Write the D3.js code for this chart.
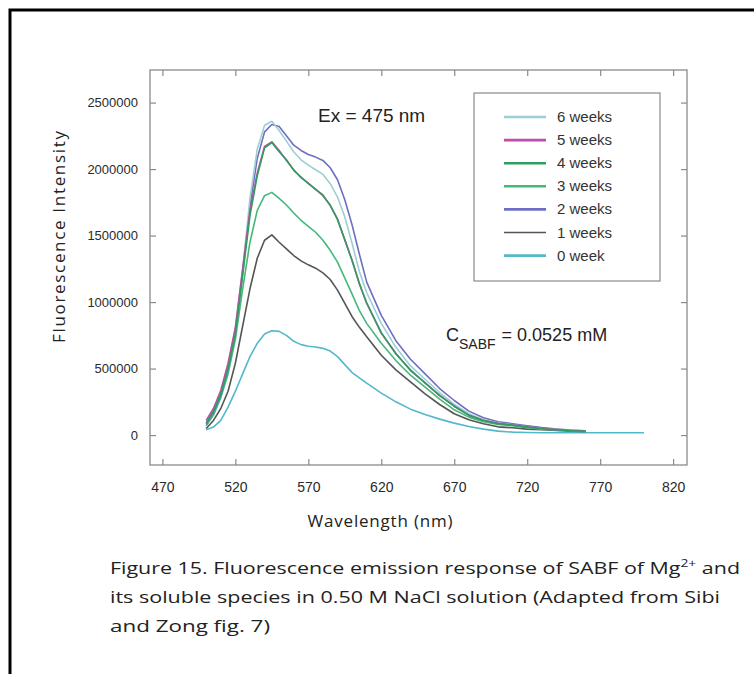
<!DOCTYPE html>
<html>
<head>
<meta charset="utf-8">
<script src="https://cdn.jsdelivr.net/npm/d3@7"></script>
<style>
  body { margin: 0; background: #fff; }
  svg { display: block; }
</style>
</head>
<body>
<script>
// wavelength grid (nm) shared by the 1-6 week scans
var wavelengths = [500,505,510,515,520,525,530,535,540,545,550,555,560,565,570,575,580,585,590,595,600,605,610,620,630,640,650,660,670,680,690,700,710,720,730,740,750,760];
// the 0 week scan runs further, to 800 nm
var wavelengths0 = wavelengths.concat([770,780,790,800]);

var week6 = [100000,190000,320000,520000,800000,1250000,1780000,2150000,2330000,2360000,2290000,2210000,2130000,2070000,2030000,1995000,1960000,1890000,1790000,1640000,1440000,1230000,1070000,840000,660000,520000,420000,320000,230000,160000,115000,90000,78000,62000,50000,42000,35000,30000];
var week5 = [110000,200000,335000,540000,810000,1250000,1690000,1970000,2170000,2205000,2140000,2065000,1995000,1935000,1895000,1845000,1805000,1725000,1625000,1465000,1315000,1135000,995000,765000,615000,485000,395000,295000,220000,148000,112000,88000,76000,62000,49000,41000,34000,31000];
var week4 = [90000,180000,310000,500000,760000,1200000,1650000,1950000,2160000,2200000,2130000,2070000,1990000,1940000,1890000,1850000,1800000,1730000,1620000,1470000,1310000,1140000,990000,770000,610000,490000,390000,300000,215000,150000,110000,85000,75000,60000,48000,40000,33000,30000];
var week3 = [70000,150000,280000,460000,720000,1100000,1450000,1690000,1800000,1825000,1780000,1730000,1670000,1615000,1570000,1525000,1465000,1390000,1300000,1180000,1060000,935000,840000,690000,560000,450000,360000,270000,190000,135000,100000,80000,70000,55000,45000,38000,32000,28000];
var week2 = [80000,170000,300000,500000,780000,1220000,1720000,2080000,2280000,2335000,2320000,2250000,2180000,2140000,2110000,2090000,2065000,2010000,1920000,1770000,1580000,1360000,1150000,900000,710000,570000,460000,350000,260000,180000,130000,100000,85000,70000,56000,46000,38000,32000];
var week1 = [50000,110000,200000,330000,540000,820000,1100000,1330000,1465000,1505000,1450000,1400000,1350000,1310000,1280000,1255000,1220000,1170000,1090000,990000,890000,810000,740000,600000,490000,400000,310000,230000,160000,115000,85000,62000,55000,45000,40000,35000,30000,28000];
var week0 = [40000,60000,110000,210000,330000,460000,590000,690000,760000,785000,780000,750000,705000,680000,668000,662000,652000,632000,590000,530000,470000,430000,390000,315000,250000,195000,155000,120000,90000,65000,45000,30000,22000,19000,18000,18000,17000,17000,17000,17000,17000,17000];

var seriesNames = ["6 weeks","5 weeks","4 weeks","3 weeks","2 weeks","1 weeks","0 week"];
var seriesColors = ["#9ccfd4","#c24aa8","#2e9e5e","#45b87a","#6e6ec2","#555555","#52b8cb"];

var xTicks = [470,520,570,620,670,720,770,820];
var yTicks = [0,500000,1000000,1500000,2000000,2500000];

var series = [
  {name: seriesNames[0], color: seriesColors[0], x: wavelengths, y: week6},
  {name: seriesNames[1], color: seriesColors[1], x: wavelengths, y: week5},
  {name: seriesNames[2], color: seriesColors[2], x: wavelengths, y: week4},
  {name: seriesNames[3], color: seriesColors[3], x: wavelengths, y: week3},
  {name: seriesNames[4], color: seriesColors[4], x: wavelengths, y: week2},
  {name: seriesNames[5], color: seriesColors[5], x: wavelengths, y: week1},
  {name: seriesNames[6], color: seriesColors[6], x: wavelengths0, y: week0}
];
// order the curves are painted in (last on top)
var drawOrder = [6, 5, 3, 4, 0, 1, 2];

var svg = d3.select("body")
    .append("svg")
    .attr("width", 754)
    .attr("height", 674);

// page border (left and top edge of the framed figure)
svg.append("path")
    .attr("d", "M10,674 L10,10 L754,10")
    .attr("fill", "none")
    .attr("stroke", "#000")
    .attr("stroke-width", 3);

var plotL = 150, plotR = 687, plotT = 70, plotB = 465;

var x = d3.scaleLinear().domain([461.5, 829.5]).range([plotL, plotR]);
var y = d3.scaleLinear().domain([-225000, 2745000]).range([plotB, plotT]);

var plot = svg.append("g");

// axes: ticks point inward on all four sides
var xAxis = plot.append("g")
    .attr("transform", "translate(0," + plotB + ")")
    .call(d3.axisBottom(x).tickValues(xTicks).tickSizeInner(-6).tickSizeOuter(0).tickPadding(17).tickFormat(d3.format("d")));
var xTop = plot.append("g")
    .attr("transform", "translate(0," + plotT + ")")
    .call(d3.axisTop(x).tickValues(xTicks).tickSizeInner(-6).tickSizeOuter(0).tickFormat(""));
var yAxis = plot.append("g")
    .attr("transform", "translate(" + plotL + ",0)")
    .call(d3.axisLeft(y).tickValues(yTicks).tickSizeInner(-6).tickSizeOuter(0).tickPadding(12).tickFormat(d3.format("d")));
var yRight = plot.append("g")
    .attr("transform", "translate(" + plotR + ",0)")
    .call(d3.axisRight(y).tickValues(yTicks).tickSizeInner(-6).tickSizeOuter(0).tickFormat(""));

plot.selectAll(".domain").remove();
plot.selectAll(".tick line").attr("stroke", "#8a8a8a").attr("stroke-width", 1.2);
xAxis.selectAll("text").attr("font-family", "Liberation Sans, Arial, sans-serif").attr("font-size", 14).attr("fill", "#2a2a2a");
yAxis.selectAll("text").attr("font-family", "Liberation Sans, Arial, sans-serif").attr("font-size", 13).attr("fill", "#2a2a2a");

plot.append("rect")
    .attr("x", plotL).attr("y", plotT)
    .attr("width", plotR - plotL).attr("height", plotB - plotT)
    .attr("fill", "none")
    .attr("stroke", "#8a8a8a")
    .attr("stroke-width", 1.3);

// curves
var line = d3.line()
    .x(function(d) { return x(d[0]); })
    .y(function(d) { return y(d[1]); });

drawOrder.forEach(function(i) {
  var s = series[i];
  var pts = s.x.map(function(w, k) { return [w, s.y[k]]; });
  plot.append("path")
      .datum(pts)
      .attr("d", line)
      .attr("fill", "none")
      .attr("stroke", s.color)
      .attr("stroke-width", 1.6)
      .attr("stroke-linejoin", "round");
});

// annotations
svg.append("text")
    .attr("x", 318).attr("y", 122)
    .attr("font-family", "Liberation Sans, Arial, sans-serif")
    .attr("font-size", 19)
    .attr("fill", "#222")
    .text("Ex = 475 nm");

var conc = svg.append("text")
    .attr("x", 446).attr("y", 341)
    .attr("font-family", "Liberation Sans, Arial, sans-serif")
    .attr("font-size", 18)
    .attr("fill", "#222");
conc.append("tspan").text("C");
conc.append("tspan").attr("dy", 8).attr("font-size", 14).text("SABF");
conc.append("tspan").attr("dy", -8).attr("dx", 6).text("= 0.0525 mM");

// legend
var legend = svg.append("g");
legend.append("rect")
    .attr("x", 474).attr("y", 93)
    .attr("width", 186).attr("height", 188)
    .attr("fill", "#fff")
    .attr("stroke", "#8a8a8a")
    .attr("stroke-width", 1.2);

series.forEach(function(s, i) {
  var cy = 117 + i * 23.1;
  legend.append("line")
      .attr("x1", 504).attr("x2", 546)
      .attr("y1", cy).attr("y2", cy)
      .attr("stroke", s.color)
      .attr("stroke-width", i === 5 ? 1.6 : 2.6);
  legend.append("text")
      .attr("x", 557).attr("y", cy + 5)
      .attr("font-family", "Liberation Sans, Arial, sans-serif")
      .attr("font-size", 15)
      .attr("fill", "#333")
      .text(s.name);
});

// axis titles
svg.append("text")
    .attr("transform", "translate(65,237) rotate(-90)")
    .attr("text-anchor", "middle")
    .attr("font-family", "Open Sans, Liberation Sans, sans-serif")
    .attr("font-size", 17)
    .attr("fill", "#222")
    .attr("textLength", 212)
    .attr("lengthAdjust", "spacing")
    .text("Fluorescence Intensity");

svg.append("text")
    .attr("x", 380).attr("y", 527)
    .attr("text-anchor", "middle")
    .attr("font-family", "Open Sans, Liberation Sans, sans-serif")
    .attr("font-size", 17)
    .attr("fill", "#222")
    .attr("textLength", 145)
    .attr("lengthAdjust", "spacing")
    .text("Wavelength (nm)");

// caption
var capFont = "Open Sans, Liberation Sans, sans-serif";
var cap1 = svg.append("text")
    .attr("x", 110).attr("y", 574)
    .attr("font-family", capFont)
    .attr("font-size", 17)
    .attr("fill", "#222")
    .attr("textLength", 630)
    .attr("lengthAdjust", "spacingAndGlyphs");
cap1.append("tspan").text("Figure 15. Fluorescence emission response of SABF of Mg");
cap1.append("tspan").attr("dy", -7).attr("font-size", 11).text("2+");
cap1.append("tspan").attr("dy", 7).text(" and");

svg.append("text")
    .attr("x", 110).attr("y", 603)
    .attr("font-family", capFont)
    .attr("font-size", 17)
    .attr("fill", "#222")
    .attr("textLength", 610)
    .attr("lengthAdjust", "spacingAndGlyphs")
    .text("its soluble species in 0.50 M NaCl solution (Adapted from Sibi");

svg.append("text")
    .attr("x", 110).attr("y", 632)
    .attr("font-family", capFont)
    .attr("font-size", 17)
    .attr("fill", "#222")
    .attr("textLength", 160)
    .attr("lengthAdjust", "spacingAndGlyphs")
    .text("and Zong fig. 7)");
</script>
</body>
</html>
